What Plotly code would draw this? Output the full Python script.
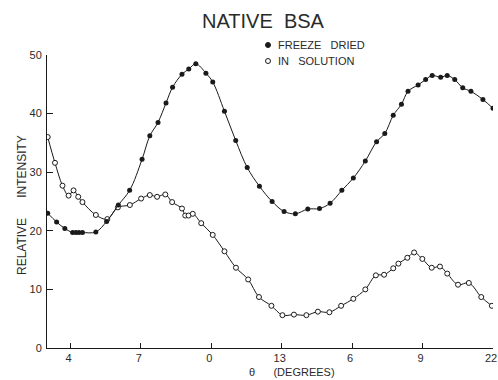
import plotly.graph_objects as go

# ---- data ----
theta_fd = [3.03, 3.41, 3.76, 4.09, 4.23, 4.36, 4.51, 5.08, 5.54, 6.04, 6.52, 7.05, 7.38, 7.73,
            8.07, 8.35, 8.75, 9.04, 9.34, 9.77, 10.06, 10.56, 11.04, 11.53, 12.05, 12.59, 13.1,
            13.58, 14.11, 14.61, 15.06, 15.56, 16.05, 16.56, 17.04, 17.39, 17.75, 18.1, 18.38,
            18.81, 19.13, 19.41, 19.77, 20.05, 20.37, 20.71, 21.06, 21.57, 22.0]
int_fd = [23.0, 21.5, 20.4, 19.7, 19.7, 19.7, 19.7, 19.8, 21.6, 24.4, 26.9, 32.2, 36.2, 38.5,
          41.8, 44.5, 46.7, 47.6, 48.5, 46.9, 45.4, 40.4, 35.4, 30.8, 27.6, 25.0, 23.3,
          22.9, 23.7, 23.8, 24.7, 26.9, 29.0, 31.9, 35.2, 36.6, 39.7, 41.6, 43.8,
          44.9, 45.8, 46.5, 46.2, 46.5, 45.8, 44.4, 43.8, 42.4, 40.9]

theta_sol = [3.03, 3.34, 3.66, 3.92, 4.13, 4.33, 4.51, 5.08, 5.57, 6.02, 6.53, 7.01, 7.38, 7.69,
             8.04, 8.33, 8.75, 8.89, 9.03, 9.21, 9.57, 10.06, 10.56, 11.05, 11.57, 12.03, 12.56,
             13.03, 13.52, 14.05, 14.54, 15.03, 15.53, 16.05, 16.56, 17.01, 17.36, 17.75, 17.97,
             18.35, 18.64, 18.99, 19.39, 19.74, 20.05, 20.51, 20.97, 21.5, 21.95]
int_sol = [36.0, 31.6, 27.7, 26.0, 26.9, 25.8, 24.9, 22.7, 22.0, 24.0, 24.4, 25.5, 26.1, 25.8,
           26.2, 24.9, 23.8, 22.6, 22.6, 22.9, 21.3, 19.3, 16.5, 13.7, 11.7, 8.7, 7.2,
           5.6, 5.7, 5.6, 6.2, 6.1, 7.2, 8.4, 10.0, 12.4, 12.5, 13.6, 14.4,
           15.4, 16.3, 15.2, 13.7, 13.9, 12.7, 10.8, 11.1, 8.7, 7.2]

x_tickvals = [4, 7, 10, 13, 16, 19, 22]
x_ticktext = ["4", "7", "0", "13", "6", "9", "22"]
y_tickvals = [0, 10, 20, 30, 40, 50]
y_ticktext = ["0", "10", "20", "30", "40", "50"]

INK = "#1a1a1a"
TXT = "#2a2a2a"
FONT = "Liberation Sans, Arial, sans-serif"

fig = go.Figure()
fig.add_trace(go.Scatter(
    x=theta_sol, y=int_sol, mode="lines+markers", name="IN SOLUTION",
    line=dict(color=INK, width=1, shape="spline", smoothing=1.0),
    marker=dict(symbol="circle", size=5, color="white", line=dict(color=INK, width=1)),
    showlegend=False))
fig.add_trace(go.Scatter(
    x=theta_fd, y=int_fd, mode="lines+markers", name="FREEZE DRIED",
    line=dict(color=INK, width=1, shape="spline", smoothing=1.0),
    marker=dict(symbol="circle", size=5, color=INK),
    showlegend=False))

L, R, T, B = 47, 5, 55, 32
W, H = 498, 380
pw = W - L - R
ph = H - T - B

def px(xp):
    return (xp - L) / pw

def py(yp):
    return (H - B - yp) / ph

annotations = [
    dict(text="FREEZE   DRIED", x=px(276), y=py(45), xref="paper", yref="paper",
         xanchor="left", yanchor="middle", showarrow=False,
         font=dict(family=FONT, size=11, color=TXT)),
    dict(text="IN   SOLUTION", x=px(276), y=py(61), xref="paper", yref="paper",
         xanchor="left", yanchor="middle", showarrow=False,
         font=dict(family=FONT, size=11, color=TXT)),
    dict(text="RELATIVE      INTENSITY", x=px(22), y=py(205), xref="paper", yref="paper",
         xanchor="center", yanchor="middle", showarrow=False, textangle=-90,
         font=dict(family=FONT, size=12, color=TXT)),
    dict(text="θ      (DEGREES)", x=px(292), y=py(372), xref="paper", yref="paper",
         xanchor="center", yanchor="middle", showarrow=False,
         font=dict(family=FONT, size=11, color=TXT)),
]

shapes = [
    dict(type="circle", xref="paper", yref="paper", xsizemode="pixel", ysizemode="pixel",
         xanchor=px(268), yanchor=py(45), x0=-2.5, x1=2.5, y0=-2.5, y1=2.5,
         fillcolor=INK, line=dict(color=INK, width=1)),
    dict(type="circle", xref="paper", yref="paper", xsizemode="pixel", ysizemode="pixel",
         xanchor=px(268), yanchor=py(61), x0=-2.5, x1=2.5, y0=-2.5, y1=2.5,
         fillcolor="white", line=dict(color=INK, width=1)),
]

fig.update_layout(
    width=W, height=H,
    margin=dict(l=L, r=R, t=T, b=B),
    paper_bgcolor="white", plot_bgcolor="white",
    font=dict(family=FONT, color=TXT),
    title=dict(text="NATIVE  BSA", x=263 / W, xanchor="center", y=1 - 21 / H,
               yanchor="middle", yref="container",
               font=dict(family=FONT, size=20, color=TXT)),
    annotations=annotations,
    shapes=shapes,
    showlegend=False,
)
fig.update_xaxes(range=[3, 22], tickvals=x_tickvals, ticktext=x_ticktext,
                 ticks="inside", ticklen=5, tickcolor=INK, tickwidth=1,
                 showline=True, linecolor=INK, linewidth=1, showgrid=False, zeroline=False,
                 ticklabeloverflow="allow", automargin=False, ticklabelshift=-2,
                 tickfont=dict(family=FONT, size=11, color=TXT))
fig.update_yaxes(range=[0, 50], tickvals=y_tickvals, ticktext=y_ticktext,
                 ticks="inside", ticklen=6, tickcolor=INK, tickwidth=1,
                 showline=True, linecolor=INK, linewidth=1, showgrid=False, zeroline=False,
                 automargin=False,
                 tickfont=dict(family=FONT, size=11, color=TXT), ticklabelstandoff=2)

fig.write_html("out.html")
